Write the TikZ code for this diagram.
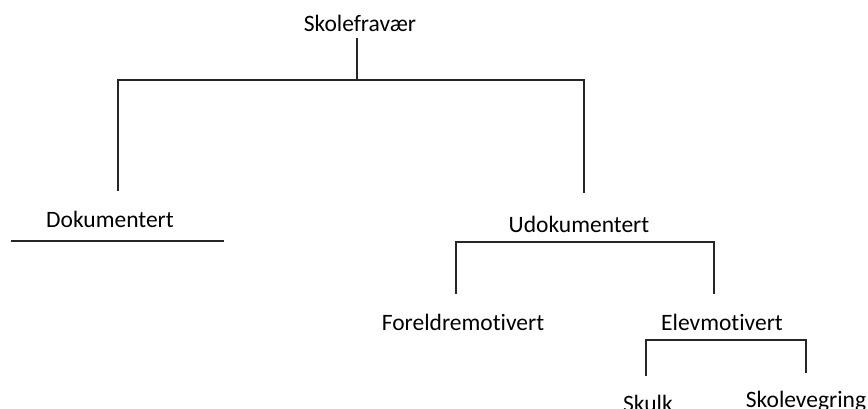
\documentclass[tikz,border=0pt]{standalone}
\usepackage{fontspec}
\setmainfont[Ligatures=NoCommon]{Carlito}
\usetikzlibrary{positioning,calc}

\begin{document}
\begin{tikzpicture}[x=1pt, y=-1pt, line width=1.4pt, main node/.style={anchor=base,inner sep=0pt,font=\fontsize{23.5}{28}\selectfont}, tree line/.style={draw=black!85}]
\useasboundingbox (0,0) rectangle (868,409);
\begin{scope}
\node[main node] (sf) at (360,32) {Skolefravær};
\node[main node] (dok) at (110,227) {Dokumentert};
\node[main node] (udok) at (579,233) {Udokumentert};
\node[main node] (foreldre) at (463,330) {Foreldremotivert};
\node[main node] (elev) at (722,330) {Elevmotivert};
\node[main node] (skulk) at (648,411) {Skulk};
\node[main node] (vegring) at (806,407) {Skolevegring};
\end{scope}
\begin{scope}
% knekkpunkter
\coordinate (j1) at (357,80);
\coordinate (j1l) at (118,80);
\coordinate (j1r) at (584,80);
\coordinate (e1l) at (118,191);
\coordinate (e1r) at (584,193);
\coordinate (u1) at (11,241);
\coordinate (u2) at (224,241);
\coordinate (j2l) at (456,242);
\coordinate (j2r) at (714,242);
\coordinate (e2l) at (456,294);
\coordinate (e2r) at (714,294);
\coordinate (j3l) at (646,340);
\coordinate (j3r) at (806,340);
\coordinate (e3l) at (646,376);
\coordinate (e3r) at (806,373);
\end{scope}
\begin{scope}[tree line]
\draw[shorten <=5pt] (sf.south -| j1) -- (j1);
\draw (e1l) -- (j1l) -- (j1r) -- (e1r);
\draw (u1) -- (u2);
\draw (e2l) -- (j2l) -- (j2r) -- (e2r);
\draw (e3l) -- (j3l) -- (j3r) -- (e3r);
\end{scope}
\end{tikzpicture}
\end{document}
